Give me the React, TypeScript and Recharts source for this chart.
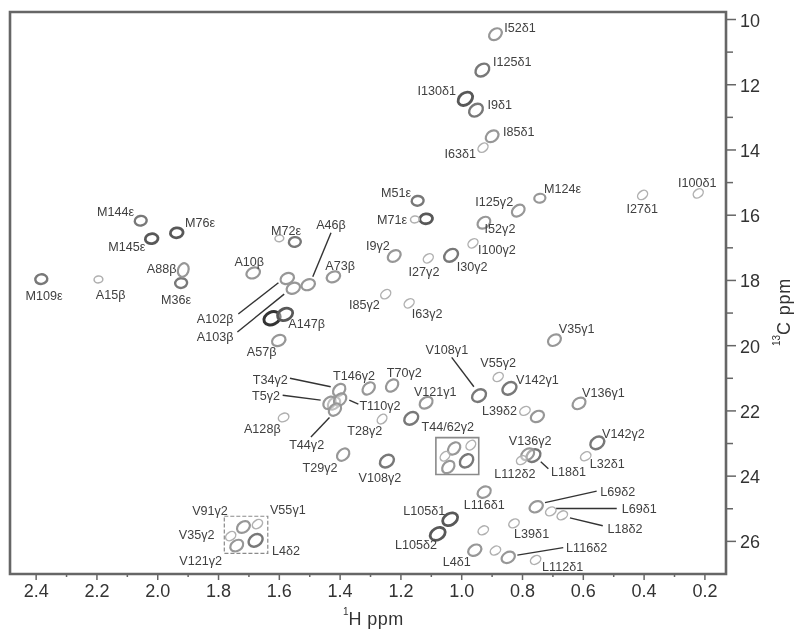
import {
  ScatterChart,
  Scatter,
  XAxis,
  YAxis,
  Label,
  ReferenceLine,
  ReferenceArea
} from "recharts";

type Peak = { h:number; c:number; level:number };
type Tag = { text:string; h:number; c:number };
type Leader = [number,number,number,number];

const hTicks = [0.2,0.3,0.4,0.5,0.6,0.7,0.8,0.9,1.0,1.1,1.2,1.3,1.4,1.5,1.6,1.7,1.8,1.9,2.0,2.1,2.2,2.3,2.4];
const cTicks = [10,11,12,13,14,15,16,17,18,19,20,21,22,23,24,25,26];
const hDomain = [0.1306,2.486];
const cDomain = [9.77,27.0];

// level: 0 faint .. 4 strongest contour
const metPeaks:Peak[] = [
  {h:2.056,c:16.17,level:2},{h:1.9375,c:16.54,level:3},{h:2.02,c:16.72,level:3},
  {h:1.549,c:16.82,level:2},{h:1.923,c:18.08,level:2},{h:2.383,c:17.96,level:2},
  {h:1.145,c:15.56,level:2},{h:1.117,c:16.11,level:3},{h:0.743,c:15.48,level:1},
  {h:1.154,c:16.13,level:0},{h:1.60,c:16.71,level:0},{h:2.195,c:17.97,level:0}
];
const alaPeaks:Peak[] = [
  {h:1.686,c:17.77,level:1},{h:1.574,c:17.94,level:1},
  {h:1.554,c:18.24,level:1},{h:1.505,c:18.13,level:1},{h:1.422,c:17.89,level:1},
  {h:1.624,c:19.16,level:4},{h:1.581,c:19.04,level:3},{h:1.602,c:19.84,level:1},
  {h:1.586,c:22.2,level:0}
];
const a88Peak:Peak[] = [{h:1.916,c:17.68,level:1}];
const ilePeaks:Peak[] = [
  {h:0.889,c:10.45,level:1},{h:0.932,c:11.55,level:2},{h:0.988,c:12.43,level:3},
  {h:0.953,c:12.78,level:2},{h:0.90,c:13.58,level:1},{h:0.93,c:13.93,level:0},
  {h:0.405,c:15.38,level:0},{h:0.222,c:15.33,level:0},{h:0.814,c:15.86,level:1},
  {h:0.927,c:16.23,level:1},{h:0.963,c:16.86,level:0},{h:1.11,c:17.32,level:0},
  {h:1.035,c:17.23,level:2},{h:1.173,c:18.70,level:0},{h:1.25,c:18.42,level:0},
  {h:1.222,c:17.25,level:1}
];
const thrPeaks:Peak[] = [
  {h:1.403,c:21.36,level:1},{h:1.42,c:21.77,level:1},{h:1.435,c:21.75,level:1},
  {h:1.40,c:21.65,level:1},{h:1.417,c:21.96,level:1},{h:1.306,c:21.31,level:1},
  {h:1.229,c:21.22,level:1},{h:1.262,c:22.25,level:0},{h:1.39,c:23.34,level:1},
  {h:1.025,c:23.15,level:1},{h:0.97,c:23.05,level:0},{h:1.055,c:23.39,level:0},
  {h:1.044,c:23.72,level:1},{h:0.984,c:23.53,level:2}
];
const valPeaks:Peak[] = [
  {h:1.117,c:21.75,level:1},{h:1.166,c:22.23,level:2},{h:1.246,c:23.54,level:2},
  {h:0.943,c:21.53,level:2},{h:0.88,c:20.96,level:0},{h:0.843,c:21.31,level:2},
  {h:0.695,c:19.83,level:1},{h:0.614,c:21.77,level:1},{h:0.764,c:23.37,level:2},
  {h:0.783,c:23.33,level:1},{h:0.554,c:22.98,level:2},{h:1.718,c:25.56,level:1},
  {h:1.672,c:25.47,level:0},{h:1.76,c:25.84,level:0},{h:1.74,c:26.13,level:1},
  {h:1.678,c:25.97,level:2}
];
const leuPeaks:Peak[] = [
  {h:0.792,c:22.0,level:0},{h:0.751,c:22.17,level:1},{h:0.803,c:23.51,level:0},
  {h:0.592,c:23.39,level:0},{h:0.926,c:24.49,level:1},{h:1.038,c:25.32,level:3},
  {h:1.079,c:25.77,level:3},{h:0.755,c:24.94,level:1},{h:0.707,c:25.08,level:0},
  {h:0.669,c:25.2,level:0},{h:0.828,c:25.45,level:0},{h:0.929,c:25.66,level:0},
  {h:0.957,c:26.27,level:1},{h:0.889,c:26.28,level:0},{h:0.847,c:26.49,level:1},
  {h:0.757,c:26.57,level:0}
];

const tags:Tag[] = [
  {text:"M144ε",h:2.139,c:15.9},{text:"M76ε",h:1.861,c:16.22},{text:"M145ε",h:2.102,c:16.97},
  {text:"M72ε",h:1.578,c:16.48},{text:"A46β",h:1.43,c:16.28},{text:"A10β",h:1.699,c:17.42},
  {text:"A88β",h:1.987,c:17.62},{text:"A73β",h:1.40,c:17.53},{text:"M109ε",h:2.374,c:18.47},
  {text:"A15β",h:2.155,c:18.43},{text:"M36ε",h:1.94,c:18.58},{text:"I85γ2",h:1.32,c:18.73},
  {text:"A102β",h:1.811,c:19.17},{text:"A103β",h:1.811,c:19.72},{text:"A147β",h:1.51,c:19.32},
  {text:"A57β",h:1.658,c:20.18},{text:"I9γ2",h:1.276,c:16.94},{text:"M51ε",h:1.216,c:15.29},
  {text:"M71ε",h:1.229,c:16.12},{text:"T34γ2",h:1.63,c:21.03},{text:"T146γ2",h:1.354,c:20.9},
  {text:"T70γ2",h:1.189,c:20.81},{text:"V121γ1",h:1.087,c:21.4},{text:"T5γ2",h:1.644,c:21.52},
  {text:"T110γ2",h:1.269,c:21.82},{text:"A128β",h:1.656,c:22.54},{text:"T28γ2",h:1.319,c:22.59},
  {text:"T44/62γ2",h:1.046,c:22.47},{text:"T44γ2",h:1.51,c:23.02},{text:"T29γ2",h:1.466,c:23.72},
  {text:"V108γ2",h:1.269,c:24.03},{text:"V108γ1",h:1.049,c:20.13},{text:"V55γ2",h:0.88,c:20.52},
  {text:"V35γ1",h:0.622,c:19.47},{text:"V142γ1",h:0.751,c:21.04},{text:"V136γ1",h:0.534,c:21.45},
  {text:"L39δ2",h:0.876,c:22.0},{text:"V142γ2",h:0.468,c:22.69},{text:"V136γ2",h:0.775,c:22.9},
  {text:"L32δ1",h:0.521,c:23.61},{text:"L18δ1",h:0.649,c:23.87},{text:"L112δ2",h:0.825,c:23.93},
  {text:"L116δ1",h:0.926,c:24.86},{text:"L105δ1",h:1.123,c:25.05},{text:"L105δ2",h:1.15,c:26.1},
  {text:"L69δ2",h:0.487,c:24.47},{text:"L69δ1",h:0.416,c:25.0},{text:"L18δ2",h:0.463,c:25.59},
  {text:"L39δ1",h:0.77,c:25.75},{text:"L116δ2",h:0.589,c:26.18},{text:"L4δ1",h:1.016,c:26.61},
  {text:"L112δ1",h:0.668,c:26.77},{text:"V91γ2",h:1.828,c:25.05},{text:"V55γ1",h:1.572,c:25.02},
  {text:"V35γ2",h:1.872,c:25.79},{text:"L4δ2",h:1.578,c:26.29},{text:"V121γ2",h:1.859,c:26.6},
  {text:"I52δ1",h:0.808,c:10.26},{text:"I125δ1",h:0.834,c:11.3},{text:"I130δ1",h:1.082,c:12.18},
  {text:"I9δ1",h:0.875,c:12.6},{text:"I85δ1",h:0.812,c:13.42},{text:"I63δ1",h:1.005,c:14.1},
  {text:"M124ε",h:0.668,c:15.19},{text:"I125γ2",h:0.893,c:15.58},{text:"I27δ1",h:0.406,c:15.8},
  {text:"I100δ1",h:0.225,c:14.99},{text:"I52γ2",h:0.874,c:16.4},{text:"I100γ2",h:0.884,c:17.04},
  {text:"I27γ2",h:1.124,c:17.74},{text:"I30γ2",h:0.966,c:17.56},{text:"I63γ2",h:1.114,c:19.0}
];

// h1, c1, h2, c2
const leaders:Leader[] = [
  [1.43,16.54,1.49,17.89],[1.735,19.03,1.603,18.07],[1.738,19.58,1.584,18.42],
  [1.565,21.0,1.431,21.26],[1.589,21.52,1.464,21.67],[1.37,21.67,1.34,21.79],
  [1.496,22.8,1.435,22.2],[1.033,20.36,0.96,21.26],[0.74,23.56,0.715,23.77],
  [0.726,24.81,0.556,24.46],[0.69,24.99,0.49,24.99],[0.644,25.28,0.536,25.52],
  [0.817,26.42,0.666,26.19]
];

const FONT = "'Liberation Sans', Arial, sans-serif";
const colors = ["#b0b0b0","#979797","#787878","#585858","#333333"];
const widths = [1.5,2.2,2.4,2.8,3];
const radii:[number,number][] = [[5.5,4],[7,5.2],[7.5,5.7],[8,5.8],[8.5,6.2]];

function peakShape(angle:number,stretch:number){
  return function PeakShape(props:any){
    const { cx, cy, payload } = props;
    const lv = payload.level;
    const [rx,ry] = radii[lv];
    return (
      <ellipse
        cx={cx}
        cy={cy}
        rx={rx*stretch}
        ry={ry*(stretch<1?0.85:1)}
        fill="#fff"
        fillOpacity={0.4}
        stroke={colors[lv]}
        strokeWidth={widths[lv]}
        transform={`rotate(${angle} ${cx} ${cy})`}
      />
    );
  };
}

function TagShape(props:any){
  const { cx, cy, payload } = props;
  return (
    <text x={cx} y={cy} dy={4.5} textAnchor="middle" fontSize={12.6} fontFamily={FONT} fill="#404040">
      {payload.text}
    </text>
  );
}

function HTick(props:any){
  const { x, y, payload } = props;
  const major = Math.round(payload.value*10)%2===0;
  return (
    <g>
      <line x1={x} x2={x} y1={y-8} y2={major?y-2:y-5} stroke="#666" strokeWidth={1.5} />
      {major && (
        <text x={x} y={y+15} textAnchor="middle" fontSize={18} fontFamily={FONT} fill="#333">
          {payload.value.toFixed(1)}
        </text>
      )}
    </g>
  );
}

function CTick(props:any){
  const { x, y, payload } = props;
  const major = payload.value%2===0;
  return (
    <g>
      <line x1={x-8} x2={x+(major?2:-1)} y1={y} y2={y} stroke="#666" strokeWidth={1.5} />
      {major && (
        <text x={x+6} y={y+7} textAnchor="start" fontSize={18} fontFamily={FONT} fill="#333">
          {payload.value}
        </text>
      )}
    </g>
  );
}

function HTitle(props:any){
  const { viewBox } = props;
  const x = viewBox.x+viewBox.width/2-25;
  return (
    <text x={x} y={viewBox.y+51} fontFamily={FONT} fill="#333">
      <tspan fontSize={10} dy={-10}>1</tspan>
      <tspan fontSize={18} dy={10} letterSpacing={0.4}>H ppm</tspan>
    </text>
  );
}

function CTitle(props:any){
  const { viewBox } = props;
  const x = viewBox.x+64;
  const y = viewBox.y+viewBox.height/2+53;
  return (
    <text x={x} y={y} transform={`rotate(-90 ${x} ${y})`} fontFamily={FONT} fill="#333">
      <tspan fontSize={10} dy={-10}>13</tspan>
      <tspan fontSize={18} dy={10} letterSpacing={0.8}>C ppm</tspan>
    </text>
  );
}

export default function App(){

  return(

    <div style={{position:"absolute",left:0,top:0,width:800,height:638,background:"#fff",filter:"blur(0.5px)"}}>

      <ScatterChart width={800} height={638} margin={{top:12,right:10,bottom:24,left:10}}>

        <XAxis
          type="number"
          dataKey="h"
          domain={hDomain}
          reversed
          allowDataOverflow
          ticks={hTicks}
          interval={0}
          tick={<HTick />}
          axisLine={false}
          tickLine={false}
          height={40}
        >
          <Label content={<HTitle />} />
        </XAxis>

        <YAxis
          type="number"
          dataKey="c"
          orientation="right"
          domain={cDomain}
          reversed
          allowDataOverflow
          ticks={cTicks}
          interval={0}
          tick={<CTick />}
          axisLine={false}
          tickLine={false}
          width={64}
        >
          <Label content={<CTitle />} />
        </YAxis>

        <ReferenceArea x1={hDomain[0]} x2={hDomain[1]} y1={cDomain[0]} y2={cDomain[1]} fill="none" stroke="#666" strokeWidth={2.6} ifOverflow="visible" />

        <ReferenceArea x1={1.085} x2={0.944} y1={22.82} y2={23.95} fill="none" stroke="#8a8a8a" strokeWidth={1.6} />
        <ReferenceArea x1={1.781} x2={1.638} y1={25.23} y2={26.37} fill="none" stroke="#8a8a8a" strokeWidth={1.2} strokeDasharray="4 2" />

        {leaders.map((l,i)=>(
          <ReferenceLine
            key={i}
            segment={[{x:l[0],y:l[1]},{x:l[2],y:l[3]}]}
            stroke="#333"
            strokeWidth={1.4}
          />
        ))}

        <Scatter data={metPeaks} shape={peakShape(-8,0.8)} isAnimationActive={false} />
        <Scatter data={alaPeaks} shape={peakShape(-25,1)} isAnimationActive={false} />
        <Scatter data={a88Peak} shape={peakShape(-70,1)} isAnimationActive={false} />
        <Scatter data={ilePeaks} shape={peakShape(-38,1)} isAnimationActive={false} />
        <Scatter data={thrPeaks} shape={peakShape(-45,1)} isAnimationActive={false} />
        <Scatter data={valPeaks} shape={peakShape(-35,1)} isAnimationActive={false} />
        <Scatter data={leuPeaks} shape={peakShape(-30,1)} isAnimationActive={false} />
        <Scatter data={tags} shape={TagShape} isAnimationActive={false} />

      </ScatterChart>

    </div>

  );

}
